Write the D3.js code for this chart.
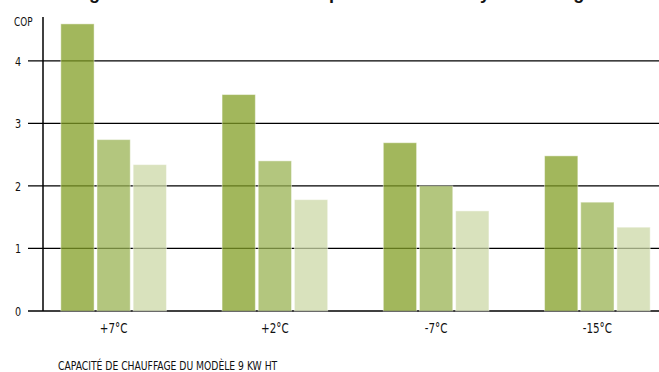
<!DOCTYPE html>
<html>
<head>
<meta charset="utf-8">
<script src="https://cdn.jsdelivr.net/npm/d3@7"></script>
<style>
  body { margin: 0; background: #fff; }
  svg { display: block; }
  text { font-family: "DejaVu Sans Condensed", "Liberation Sans Narrow", sans-serif; fill: #111; }
</style>
</head>
<body>
<div id="chart"></div>
<script>
// Data
const categories = ["+7°C", "+2°C", "-7°C", "-15°C"];
const seriesNames = ["s1", "s2", "s3"];
const series1 = [4.59, 3.46, 2.69, 2.48];
const series2 = [2.74, 2.40, 2.00, 1.74];
const series3 = [2.34, 1.78, 1.60, 1.34];
const yTicks = [0, 1, 2, 3, 4];
const colors = ["#a2b75c", "#b3c67e", "#d9e2bd"];

const W = 659, H = 372;
const axisX = 43, gridEnd = 659;

const svg = d3.select("#chart")
    .append("svg")
    .attr("width", W)
    .attr("height", H);

// Title (cut off at the top edge, as in the source)
svg.append("text")
    .attr("x", 40)
    .attr("y", -1)
    .style("font-family", "'Liberation Sans', Arial, sans-serif")
    .style("font-weight", "bold")
    .style("font-size", "18px")
    .text("Bilan global et le coefficient de la performance du système de génération de chaleur");

// Scales
const y = d3.scaleLinear().domain([0, 4.7]).range([311, 17]);
const x0 = d3.scaleBand().domain(categories).range([33, 678])
    .paddingInner(0.345).paddingOuter(0.1725);
const x1 = d3.scaleBand().domain(seriesNames).range([0, x0.bandwidth()])
    .paddingInner(0.08);

// Gridlines (under the bars)
svg.append("g")
    .selectAll("line")
    .data(yTicks)
    .join("line")
    .attr("x1", 28)
    .attr("x2", gridEnd)
    .attr("y1", d => y(d))
    .attr("y2", d => y(d))
    .attr("stroke", "#000")
    .attr("stroke-width", d => d === 0 ? 1.6 : 1.3);

// Bars, slightly see-through so the grid shows darker on them
const alpha = 0.75;
function solidFill(hex) {
    const c = d3.rgb(hex);
    const f = v => Math.max(0, Math.min(255, (v - (1 - alpha) * 255) / alpha));
    return d3.rgb(f(c.r), f(c.g), f(c.b)).formatHex();
}

const rows = categories.map((c, i) => ({
    cat: c,
    values: [series1[i], series2[i], series3[i]]
}));

const groups = svg.append("g")
    .selectAll("g")
    .data(rows)
    .join("g")
    .attr("transform", d => `translate(${x0(d.cat)},0)`);

groups.selectAll("rect")
    .data(d => d.values.map((v, j) => ({ key: seriesNames[j], value: v, j })))
    .join("rect")
    .attr("x", d => x1(d.key))
    .attr("y", d => y(d.value))
    .attr("width", x1.bandwidth())
    .attr("height", d => y(0) - y(d.value))
    .attr("fill", d => solidFill(colors[d.j]))
    .attr("fill-opacity", alpha)
    .attr("stroke", "#ffffff")
    .attr("stroke-opacity", 0.45)
    .attr("stroke-width", 1);

// Y axis line
svg.append("line")
    .attr("x1", axisX).attr("x2", axisX)
    .attr("y1", y(4.7)).attr("y2", y(0))
    .attr("stroke", "#000")
    .attr("stroke-width", 1.5);

// Y tick labels
svg.append("g")
    .selectAll("text")
    .data(yTicks)
    .join("text")
    .attr("x", 21)
    .attr("y", d => y(d))
    .attr("dy", "0.38em")
    .attr("text-anchor", "end")
    .style("font-size", "13px")
    .attr("class", "cond")
    .text(d => d);

svg.append("text")
    .attr("x", 14)
    .attr("y", 26)
    .style("font-size", "12px")
    .attr("class", "cond")
    .text("COP");

// X labels
svg.append("g")
    .selectAll("text")
    .data(categories)
    .join("text")
    .attr("x", d => x0(d) + x0.bandwidth() / 2)
    .attr("y", 333)
    .attr("text-anchor", "middle")
    .style("font-size", "14px")
    .attr("class", "cond")
    .text(d => d);

// Footnote
svg.append("text")
    .attr("x", 58)
    .attr("y", 370)
    .style("font-size", "12.5px")
    .attr("class", "cond")
    .text("CAPACITÉ DE CHAUFFAGE DU MODÈLE 9 KW HT");

// squeeze the labels to look like the condensed face of the source
svg.selectAll("text.cond").each(function () {
    const len = this.getComputedTextLength();
    d3.select(this)
        .attr("textLength", len * 0.82)
        .attr("lengthAdjust", "spacingAndGlyphs");
});
</script>
</body>
</html>
